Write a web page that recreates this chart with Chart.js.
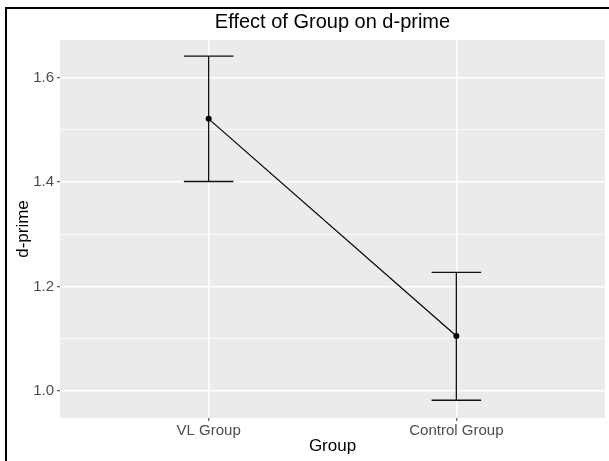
<!DOCTYPE html>
<html lang="en">
<head>
  <meta charset="UTF-8">
  <title>Effect of Group on d-prime</title>
  <script src="https://cdn.jsdelivr.net/npm/chart.js"></script>
  <style>
    body { margin: 0; background: white; }
    canvas { display: block; }
  </style>
</head>
<body>
  <canvas id="chart" width="609" height="461"></canvas>

  <script>
    const title = 'Effect of Group on d-prime';
    const groups = ['VL Group', 'Control Group'];
    const means = [1.521, 1.105];
    const lower = [1.401, 0.982];
    const upper = [1.641, 1.227];
    const yTicks = [1.0, 1.1, 1.2, 1.3, 1.4, 1.5, 1.6];
    const yLabels = ['1.0', '', '1.2', '', '1.4', '', '1.6'];

    const font = '"Liberation Sans", Arial, sans-serif';

    function isMajor(ctx) {
      if (!ctx.tick) return true;
      const i = yTicks.findIndex(v => Math.abs(v - ctx.tick.value) < 1e-6);
      return i < 0 || yLabels[i] !== '';
    }

    // grey panel + outer frame
    const panelPlugin = {
      id: 'panel',
      beforeDraw(chart) {
        const { ctx, chartArea: a } = chart;
        ctx.save();
        ctx.fillStyle = '#ebebeb';
        ctx.fillRect(a.left, a.top, a.right - a.left, a.bottom - a.top);
        ctx.fillStyle = '#000';
        ctx.fillRect(5, 7, chart.width - 5, 2);
        ctx.fillRect(5, 7, 2, chart.height - 7);
        ctx.restore();
      },
      // title centred over the panel, like ggplot
      afterDraw(chart) {
        const { ctx, chartArea: a } = chart;
        ctx.save();
        ctx.fillStyle = '#000';
        ctx.font = '20px ' + font;
        ctx.textAlign = 'center';
        ctx.textBaseline = 'middle';
        ctx.fillText(title, (a.left + a.right) / 2, 22);
        ctx.restore();
      }
    };

    // error bars with caps
    const errorBars = {
      id: 'errorBars',
      beforeDatasetsDraw(chart) {
        const { ctx, scales: { x, y } } = chart;
        ctx.save();
        ctx.strokeStyle = '#111';
        ctx.lineWidth = 1.3;
        groups.forEach((g, i) => {
          const px = x.getPixelForValue(i + 1);
          const l = x.getPixelForValue(i + 1 - 0.1);
          const r = x.getPixelForValue(i + 1 + 0.1);
          const top = y.getPixelForValue(upper[i]);
          const bot = y.getPixelForValue(lower[i]);
          ctx.beginPath();
          ctx.moveTo(px, top); ctx.lineTo(px, bot);
          ctx.moveTo(l, top); ctx.lineTo(r, top);
          ctx.moveTo(l, bot); ctx.lineTo(r, bot);
          ctx.stroke();
        });
        ctx.restore();
      }
    };

    new Chart(document.getElementById('chart'), {
      type: 'line',
      data: {
        datasets: [{
          data: groups.map((g, i) => ({ x: i + 1, y: means[i] })),
          borderColor: '#000',
          borderWidth: 1.2,
          pointRadius: 3,
          pointBackgroundColor: '#000',
          pointBorderWidth: 0,
          tension: 0
        }]
      },
      options: {
        responsive: false,
        animation: false,
        layout: { padding: { top: 40, right: 2, bottom: 0, left: 0 } },
        plugins: {
          legend: { display: false },
          tooltip: { enabled: false },
          title: { display: false }
        },
        scales: {
          x: {
            type: 'linear',
            min: 0.4,
            max: 2.6,
            afterBuildTicks: s => { s.ticks = groups.map((g, i) => ({ value: i + 1 })); },
            afterFit: s => { s.height = 43; },
            border: { display: false },
            grid: { color: '#fff', lineWidth: 1.5, tickColor: '#333', tickLength: 3, tickWidth: 1 },
            ticks: {
              color: '#4d4d4d',
              padding: 1,
              maxRotation: 0,
              font: { family: font, size: 15 },
              callback: v => groups[Math.round(v) - 1]
            },
            title: {
              display: true,
              text: 'Group',
              color: '#000',
              font: { family: font, size: 17 },
              padding: { top: 0, bottom: 4 }
            }
          },
          y: {
            min: 0.948,
            max: 1.672,
            afterBuildTicks: s => { s.ticks = yTicks.map(v => ({ value: v })); },
            afterFit: s => { s.width = 60; },
            border: { display: false },
            grid: {
              color: '#fff',
              lineWidth: c => isMajor(c) ? 1.5 : 0.75,
              tickColor: c => isMajor(c) ? '#333' : 'rgba(0,0,0,0)',
              tickLength: 3,
              tickWidth: 1
            },
            ticks: {
              color: '#4d4d4d',
              padding: 3,
              font: { family: font, size: 15 },
              callback: (v, i) => yLabels[i]
            },
            title: {
              display: true,
              text: 'd-prime',
              color: '#000',
              font: { family: font, size: 17 },
              padding: { top: 13, bottom: 0 }
            }
          }
        }
      },
      plugins: [panelPlugin, errorBars]
    });
  </script>
</body>
</html>
